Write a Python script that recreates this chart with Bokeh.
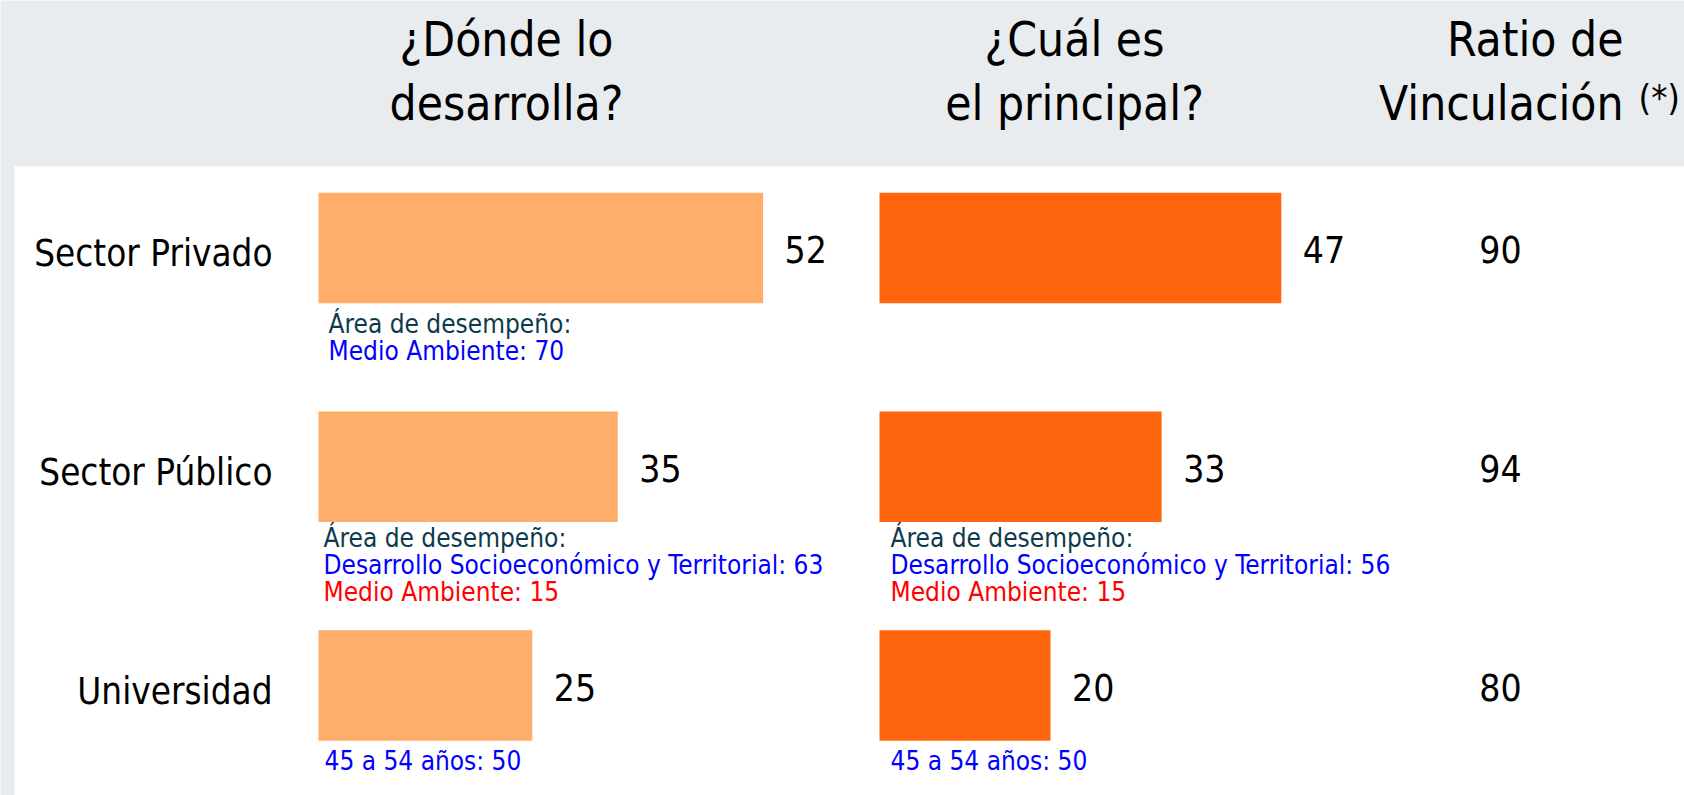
from bokeh.plotting import figure
from bokeh.models import Range1d, ColumnDataSource, BoxAnnotation
from bokeh.core.properties import value
from bokeh.embed import file_html
from bokeh.resources import INLINE

# ---------------- data ----------------
categories = ["Sector Privado", "Sector Público", "Universidad"]
donde_values = [52, 35, 25]          # ¿Dónde lo desarrolla?
principal_values = [47, 33, 20]      # ¿Cuál es el principal?
ratio_values = [90, 94, 80]          # Ratio de Vinculación (*)

titles = [["¿Dónde lo", "desarrolla?"], ["¿Cuál es", "el principal?"], ["Ratio de", "Vinculación"]]
footnote_mark = "(*)"

# notes under bars
donde_notes_row = [0, 0, 1, 1, 1, 2]
donde_notes_line = [0, 1, 0, 1, 2, 0]
donde_notes_text = ["Área de desempeño:", "Medio Ambiente: 70",
                    "Área de desempeño:", "Desarrollo Socioeconómico y Territorial: 63", "Medio Ambiente: 15",
                    "45 a 54 años: 50"]
donde_notes_kind = ["head", "blue", "head", "blue", "red", "blue"]

principal_notes_row = [1, 1, 1, 2]
principal_notes_line = [0, 1, 2, 0]
principal_notes_text = ["Área de desempeño:", "Desarrollo Socioeconómico y Territorial: 56", "Medio Ambiente: 15",
                        "45 a 54 años: 50"]
principal_notes_kind = ["head", "blue", "red", "blue"]

# ---------------- style / layout ----------------
W, H = 1684, 795
FONT = value("DejaVu Sans Condensed")
GRAY = "#E9ECEE"
LIGHT_ORANGE = "#FFAD6B"
DARK_ORANGE = "#FF660F"
NOTE_COLORS = {"head": "#0D3B4B", "blue": "#0000FF", "red": "#FF0000"}

PX_PER_UNIT = 8.55
ROW_SPACING = 218.75
ROW0_Y = 247.5
BAR1_LEFT = 318
BAR2_LEFT = 879
BAR_HEIGHT = 110.5 / ROW_SPACING
HEADER_BOTTOM = 166
WHITE_LEFT = 14
RATIO_X = 1500
NOTE_NUDGE_Y = [0, -5, 0]        # per-row vertical nudge of notes (px)
NOTE_NUDGE_X_C1 = [10, 5, 6]     # per-row left inset of notes, first column (px)
NOTE_NUDGE_X_C2 = [11, 11, 11]   # per-row left inset of notes, second column (px)

p = figure(width=W, height=H, output_backend="svg", toolbar_location=None,
           x_range=Range1d(0, W), y_range=Range1d(H, 0),
           x_axis_location=None, y_axis_location=None, min_border=0)
p.outline_line_color = None
p.grid.visible = False
p.background_fill_color = GRAY
p.border_fill_color = GRAY

p.extra_x_ranges = {
    "c1": Range1d(-BAR1_LEFT / PX_PER_UNIT, (W - BAR1_LEFT) / PX_PER_UNIT),
    "c2": Range1d(-BAR2_LEFT / PX_PER_UNIT, (W - BAR2_LEFT) / PX_PER_UNIT),
}
p.extra_y_ranges = {"rows": Range1d((H - ROW0_Y) / ROW_SPACING, -ROW0_Y / ROW_SPACING)}

p.add_layout(BoxAnnotation(left=WHITE_LEFT, right=W, top=HEADER_BOTTOM, bottom=H,
                           fill_color="white", fill_alpha=1, line_color=None, level="underlay"))

rows = list(range(len(categories)))
src = ColumnDataSource(dict(
    row=rows, cat=categories,
    d=donde_values, d_lbl=[str(v) for v in donde_values],
    pr=principal_values, pr_lbl=[str(v) for v in principal_values],
    ratio_lbl=[str(v) for v in ratio_values],
    zero=[0] * len(rows),
    ratio_x=[RATIO_X] * len(rows),
))

# bars
p.hbar(y="row", left=0, right="d", height=BAR_HEIGHT, source=src, fill_color=LIGHT_ORANGE,
       line_color=None, x_range_name="c1", y_range_name="rows")
p.hbar(y="row", left=0, right="pr", height=BAR_HEIGHT, source=src, fill_color=DARK_ORANGE,
       line_color=None, x_range_name="c2", y_range_name="rows")

# row labels
p.text(x="zero", y="row", text="cat", source=src, x_range_name="c1", y_range_name="rows",
       x_offset=-46, y_offset=5.5, text_align="right", text_baseline="middle",
       text_font=FONT, text_font_size="36.5px", text_color="black")

# value labels
p.text(x="d", y="row", text="d_lbl", source=src, x_range_name="c1", y_range_name="rows",
       x_offset=21.5, y_offset=1.5, text_align="left", text_baseline="middle",
       text_font=FONT, text_font_size="37px", text_color="black")
p.text(x="pr", y="row", text="pr_lbl", source=src, x_range_name="c2", y_range_name="rows",
       x_offset=21.5, y_offset=1.5, text_align="left", text_baseline="middle",
       text_font=FONT, text_font_size="37px", text_color="black")

# ratio column
p.text(x="ratio_x", y="row", text="ratio_lbl", source=src, y_range_name="rows",
       y_offset=1.5, text_align="center", text_baseline="middle",
       text_font=FONT, text_font_size="37px", text_color="black")

# notes under bars
def add_notes(rows_, lines_, texts_, kinds_, rng, nudge_x):
    for r, ln, t, k in zip(rows_, lines_, texts_, kinds_):
        s = ColumnDataSource(dict(x=[0], y=[r + BAR_HEIGHT / 2], t=[t]))
        p.text(x="x", y="y", text="t", source=s, x_range_name=rng, y_range_name="rows",
               x_offset=nudge_x[r], y_offset=20.5 + 27 * ln + NOTE_NUDGE_Y[r],
               text_align="left", text_baseline="middle",
               text_font=FONT, text_font_size="26px", text_color=NOTE_COLORS[k])

add_notes(donde_notes_row, donde_notes_line, donde_notes_text, donde_notes_kind, "c1", NOTE_NUDGE_X_C1)
add_notes(principal_notes_row, principal_notes_line, principal_notes_text, principal_notes_kind, "c2", NOTE_NUDGE_X_C2)

# header titles
title_x = [506, 1074, 1623]
title_align = ["center", "center", "right"]
title_mid = [38.5, 102.5]
for (l1, l2), tx, al in zip(titles, title_x, title_align):
    s = ColumnDataSource(dict(x=[tx, tx], y=title_mid, t=[l1, l2]))
    p.text(x="x", y="y", text="t", source=s, text_align=al, text_baseline="middle",
           text_font=FONT, text_font_size="47.5px", text_color="black")
s = ColumnDataSource(dict(x=[1638], y=[97], t=[footnote_mark]))
p.text(x="x", y="y", text="t", source=s, text_align="left", text_baseline="middle",
       text_font=FONT, text_font_size="36px", text_color="black")

open("out.html", "w").write(file_html(p, INLINE))
